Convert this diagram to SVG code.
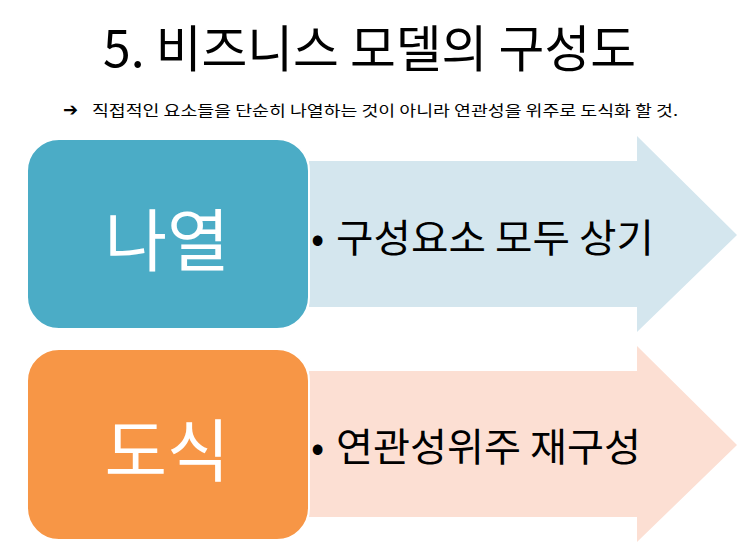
<svg xmlns="http://www.w3.org/2000/svg" width="740" height="555" viewBox="0 0 740 555">
<style>
.t{font-family:"Noto Sans CJK KR","Noto Sans",sans-serif}
.title{font-size:50px;fill:#000}
.sub{font-size:14.5px;fill:#000}
.big{font-size:68px;fill:#fff}
.item{font-size:39px;fill:#000}
.box{stroke:#fff;stroke-width:2}
</style>
<rect width="740" height="555" fill="#fff"/>
<g id="title">
<text class="t title" x="103" y="67" textLength="533" lengthAdjust="spacingAndGlyphs">5. 비즈니스 모델의 구성도</text>
</g>
<g id="subtitle">
<text x="63" y="116" font-family="DejaVu Sans,sans-serif" font-size="18" font-weight="bold" fill="#000">➔</text>
<text class="t sub" x="92" y="116" textLength="586" lengthAdjust="spacingAndGlyphs">직접적인 요소들을 단순히 나열하는 것이 아니라 연관성을 위주로 도식화 할 것.</text>
</g>
<g id="connectors">
<polygon points="309,161 637,161 637,136 737,235 637,332 637,307 309,307" fill="#D4E6EE"/>
<polygon points="309,371 637,371 637,346 737,445 637,542 637,517 309,517" fill="#FCDFD3"/>
</g>
<g id="node-naeyol">
<rect class="box" x="27" y="139" width="282" height="190" rx="32" ry="32" fill="#4BACC6"/>
<text class="t big" x="167" y="266" text-anchor="middle">나열</text>
</g>
<g id="node-item1">
<text class="t item" x="311" y="252">•</text>
<text class="t item" x="336" y="252" textLength="318" lengthAdjust="spacingAndGlyphs">구성요소 모두 상기</text>
</g>
<g id="node-dosik">
<rect class="box" x="27" y="349" width="282" height="191" rx="32" ry="32" fill="#F79646"/>
<text class="t big" x="167" y="476" text-anchor="middle">도식</text>
</g>
<g id="node-item2">
<text class="t item" x="311" y="461">•</text>
<text class="t item" x="336" y="461" textLength="305" lengthAdjust="spacingAndGlyphs">연관성위주 재구성</text>
</g>
</svg>
